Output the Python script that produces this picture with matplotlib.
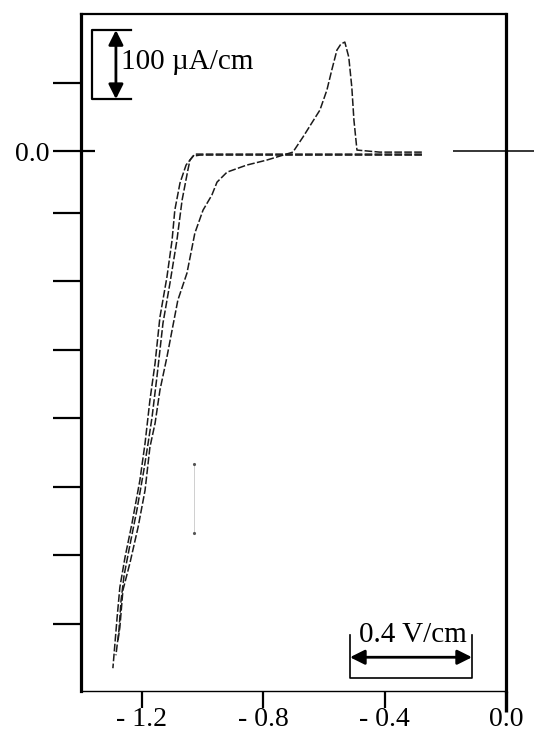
import matplotlib
matplotlib.use("Agg")
import matplotlib.pyplot as plt

plt.rcParams['font.family'] = ['Liberation Serif', 'DejaVu Serif']

# potential (V) and current (uA)
cath1_v = [-0.277, -0.679, -0.844, -1.008, -1.031, -1.054, -1.074, -1.091, -1.100, -1.117,
           -1.140, -1.156, -1.173, -1.189, -1.206, -1.232, -1.255, -1.272, -1.281, -1.295]
cath1_i = [-5.8, -5.8, -5.8, -5.8, -7.3, -20.4, -46.7, -86.1, -129.9, -183.9,
           -242.3, -309.5, -363.5, -426.3, -480.3, -543.1, -592.7, -636.5, -680.3, -754.7]

cath2_v = [-0.277, -0.700, -0.900, -1.025, -1.041, -1.048, -1.067, -1.084, -1.107, -1.130,
           -1.150, -1.166, -1.179, -1.193, -1.216, -1.239, -1.258, -1.268, -1.275, -1.285]
cath2_i = [-4.4, -4.4, -4.4, -4.4, -13.1, -27.7, -71.5, -129.9, -192.7, -251.1,
           -329.9, -388.3, -426.3, -465.7, -524.1, -575.2, -619.0, -655.5, -699.3, -735.8]

rev_v = [-1.278, -1.272, -1.262, -1.239, -1.212, -1.189, -1.173, -1.156, -1.140, -1.117,
         -1.100, -1.081, -1.051, -1.025, -0.998, -0.969, -0.952, -0.919, -0.854, -0.788,
         -0.702, -0.669, -0.640, -0.613, -0.590, -0.574, -0.557, -0.544, -0.531, -0.518,
         -0.508, -0.501, -0.491, -0.416, -0.277]
rev_i = [-713.9, -694.9, -640.9, -601.5, -548.9, -494.9, -432.1, -397.1, -348.9, -300.7,
         -261.3, -217.5, -178.1, -119.7, -86.1, -64.2, -45.3, -30.7, -20.4, -13.1,
         -1.5, 20.4, 40.9, 59.9, 89.1, 118.2, 147.4, 156.2, 159.1, 137.2,
         93.4, 45.3, 1.5, -1.5, -1.5]

xticks = [-1.2, -0.8, -0.4, 0.0]
xlabels = ['- 1.2', '- 0.8', '- 0.4', '0.0']
yticks = [100, 0, -90, -190, -290, -390, -490, -590, -690]
ylabels = ['', '0.0', '', '', '', '', '', '', '']

fig = plt.figure(figsize=(5.34, 7.36), dpi=100)
ax = fig.add_axes([0.1517, 0.0611, 0.7959, 0.9198])

dash = (0, (5, 1.5))
ax.plot(cath1_v, cath1_i, color='#1a1a1a', lw=1.1, ls=dash)
ax.plot(cath2_v, cath2_i, color='#1a1a1a', lw=1.1, ls=dash)
ax.plot(rev_v, rev_i, color='#1a1a1a', lw=1.1, ls=dash)

ax.set_xlim(-1.4, 0.0)
ax.set_ylim(-788, 200)

ax.set_xticks(xticks)
ax.set_xticklabels(xlabels, fontsize=20)
ax.set_yticks(yticks)
ax.set_yticklabels(ylabels, fontsize=20)
ax.tick_params(axis='x', direction='out', length=12, width=1.6, pad=-0.5)
ax.tick_params(axis='y', direction='out', length=20, width=1.6, pad=3)
ax.xaxis.get_major_ticks()[-1].tick1line.set_markeredgewidth(2.4)
ax.xaxis.get_major_ticks()[-1].tick1line.set_markersize(15)

ax.spines['left'].set_linewidth(2.3)
ax.spines['right'].set_linewidth(2.3)
ax.spines['top'].set_linewidth(1.6)
ax.spines['bottom'].set_linewidth(1.0)

# zero reference marks
ax.hlines(0, -1.4, -1.354, color='k', lw=1.6)
ax.hlines(0, -0.1745, 0.092, color='k', lw=1.1, clip_on=False)

# faint stray mark in the scan
ax.plot([-1.028, -1.028], [-457, -557], color='#c8c8c8', lw=0.6, marker='.', ms=2.5,
        mfc='#555', mec='#555')

# current scale bar
ax.plot([-1.235, -1.364, -1.364, -1.235], [176.6, 176.6, 75.9, 75.9], color='k', lw=1.6)
ax.annotate('', xy=(-1.285, 176.6), xytext=(-1.285, 75.9),
            arrowprops=dict(arrowstyle='<|-|>', color='k', lw=2.0, mutation_scale=22,
                            shrinkA=0, shrinkB=0))
ax.text(-1.267, 119.7, '100 µA/cm', fontsize=21, va='baseline', ha='left')

# potential scale bar
ax.plot([-0.514, -0.514, -0.112, -0.112], [-706.6, -769, -769, -706.6], color='k', lw=1.2)
ax.annotate('', xy=(-0.514, -738.7), xytext=(-0.112, -738.7),
            arrowprops=dict(arrowstyle='<|-|>', color='k', lw=2.0, mutation_scale=22,
                            shrinkA=0, shrinkB=0))
ax.text(-0.308, -717, '0.4 V/cm', fontsize=21, va='baseline', ha='center')

fig.savefig('out.png', dpi=100)
